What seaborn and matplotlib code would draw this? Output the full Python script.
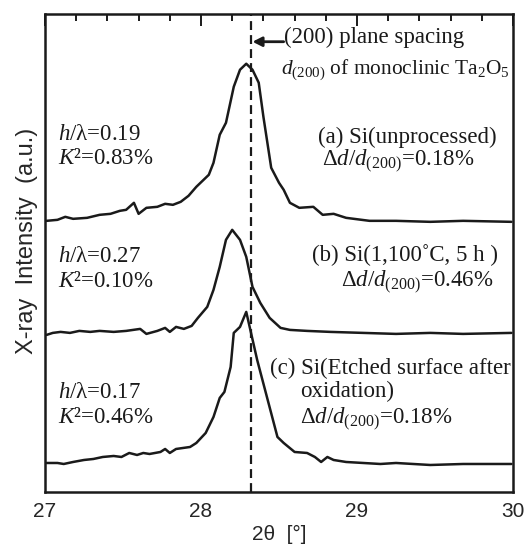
import numpy as np
import pandas as pd
import seaborn as sns
import matplotlib.pyplot as plt

# XRD scans: 2theta [deg] and intensity (a.u., offset stacked)
two_theta_a = [27.01, 27.08, 27.13, 27.18, 27.27, 27.35, 27.42, 27.48, 27.52, 27.57,
               27.60, 27.65, 27.72, 27.77, 27.82, 27.87, 27.92, 27.97, 28.05, 28.08,
               28.12, 28.16, 28.21, 28.25, 28.29, 28.33, 28.37, 28.40, 28.45, 28.50,
               28.53, 28.57, 28.63, 28.72, 28.78, 28.85, 28.93, 29.08, 29.25, 29.47,
               29.68, 29.99]
intensity_a = [271, 272, 275, 273, 274, 277, 278, 281, 282, 289,
               278, 284, 285, 288, 287, 290, 296, 305, 317, 329,
               357, 369, 405, 422, 428, 422, 409, 375, 324, 309,
               302, 289, 284, 285, 277, 278, 274, 271, 271, 270,
               271, 270]

two_theta_b = [27.01, 27.05, 27.10, 27.16, 27.22, 27.29, 27.35, 27.44, 27.52, 27.61,
               27.65, 27.72, 27.77, 27.80, 27.84, 27.89, 27.94, 27.98, 28.04, 28.08,
               28.12, 28.16, 28.20, 28.25, 28.29, 28.33, 28.38, 28.44, 28.51, 28.57,
               28.68, 28.83, 29.04, 29.25, 29.47, 29.68, 29.99]
intensity_b = [157, 159, 160, 159, 161, 160, 161, 160, 161, 163,
               158, 161, 164, 160, 165, 163, 166, 174, 185, 202,
               225, 252, 262, 252, 235, 205, 189, 174, 164, 162,
               161, 160, 159, 158, 159, 158, 159]

two_theta_c = [27.01, 27.08, 27.12, 27.18, 27.25, 27.31, 27.37, 27.44, 27.49, 27.54,
               27.59, 27.63, 27.67, 27.74, 27.77, 27.80, 27.84, 27.93, 27.97, 28.03,
               28.08, 28.12, 28.15, 28.19, 28.21, 28.25, 28.29, 28.36, 28.49, 28.53,
               28.60, 28.68, 28.73, 28.77, 28.81, 28.85, 28.93, 29.04, 29.15, 29.25,
               29.47, 29.68, 29.99]
intensity_c = [29, 29, 28, 30, 32, 33, 35, 36, 35, 39,
               37, 39, 38, 40, 43, 39, 43, 45, 49, 59,
               75, 94, 100, 125, 159, 165, 180, 132, 55, 49,
               40, 39, 35, 30, 35, 32, 30, 29, 28, 29,
               27, 28, 28]

d200_position = 28.32
x_major = [27, 28, 29, 30]
x_tick_labels = ['27', '28', '29', '30']

df = pd.concat([
    pd.DataFrame({'two_theta': two_theta_a, 'intensity': intensity_a, 'sample': 'a'}),
    pd.DataFrame({'two_theta': two_theta_b, 'intensity': intensity_b, 'sample': 'b'}),
    pd.DataFrame({'two_theta': two_theta_c, 'intensity': intensity_c, 'sample': 'c'}),
])

sns.set_style('white')
plt.rcParams['font.family'] = ['Liberation Serif', 'DejaVu Serif']
plt.rcParams['mathtext.fontset'] = 'custom'
plt.rcParams['mathtext.rm'] = 'Liberation Serif'
plt.rcParams['mathtext.it'] = 'Liberation Serif:italic'

ink = '#1a1a1a'
fig = plt.figure(figsize=(5.32, 5.46), dpi=100)
ax = fig.add_axes([0.0846, 0.0989, 0.8797, 0.876])

sns.lineplot(data=df, x='two_theta', y='intensity', units='sample', estimator=None,
             color=ink, lw=1.8, ax=ax)
ax.axvline(d200_position, color=ink, lw=1.6, ls=(0, (4, 2.3)))

ax.set_xlim(27, 30)
ax.set_ylim(0, 478)
ax.set_xticks(x_major)
ax.set_xticklabels(x_tick_labels, fontfamily='Liberation Sans', fontsize=15)
ax.set_xticks(np.arange(27, 30.01, 0.2), minor=True)
ax.set_yticks([])
ax.tick_params(axis='x', which='major', direction='in', top=True, length=8.5,
               width=1.4, pad=7, color=ink)
ax.tick_params(axis='x', which='minor', direction='in', top=True, length=5,
               width=1.4, color=ink)
for s in ax.spines.values():
    s.set_linewidth(1.8)
    s.set_color(ink)

ax.set_xlabel('2θ  [°]', fontfamily='Liberation Sans', fontsize=15, labelpad=3)
ax.set_ylabel('X-ray  Intensity  (a.u.)', fontfamily='Liberation Sans', fontsize=17)
ax.yaxis.set_label_coords(-0.016, 0.525)

fs = 16.5
def note(x, y, s, size=fs):
    ax.text(x, y, s, fontsize=size, va='baseline', ha='left', color=ink)

# arrow + plane spacing label
ax.annotate('', xy=(d200_position + 0.01, 450), xytext=(28.53, 450),
            arrowprops=dict(arrowstyle='-|>,head_length=0.55,head_width=0.28',
                            color=ink, lw=2, shrinkA=0, shrinkB=0))
note(28.535, 449, '(200) plane spacing')
note(28.515, 418, r'$d_{\rm (200)}$ of monoclinic Ta$_{\rm 2}$O$_{\rm 5}$', size=15.4)

# (a)
note(27.083, 352, r'$h/$λ=0.19')
note(27.083, 328, r'$K$²=0.83%')
note(28.75, 349, '(a) Si(unprocessed)')
note(28.776, 326, r'Δ$d$/$d_{\rm (200)}$=0.18%')

# (b)
note(27.083, 230, r'$h/$λ=0.27')
note(27.083, 205, r'$K$²=0.10%')
note(28.71, 231, '(b) Si(1,100˚C, 5 h )')
note(28.90, 205, r'Δ$d$/$d_{\rm (200)}$=0.46%')

# (c)
note(27.083, 94, r'$h/$λ=0.17')
note(27.083, 69, r'$K$²=0.46%')
note(28.442, 118, '(c) Si(Etched surface after')
note(28.635, 95, 'oxidation)')
note(28.635, 68, r'Δ$d$/$d_{\rm (200)}$=0.18%')

plt.savefig('out.png', dpi=100)
